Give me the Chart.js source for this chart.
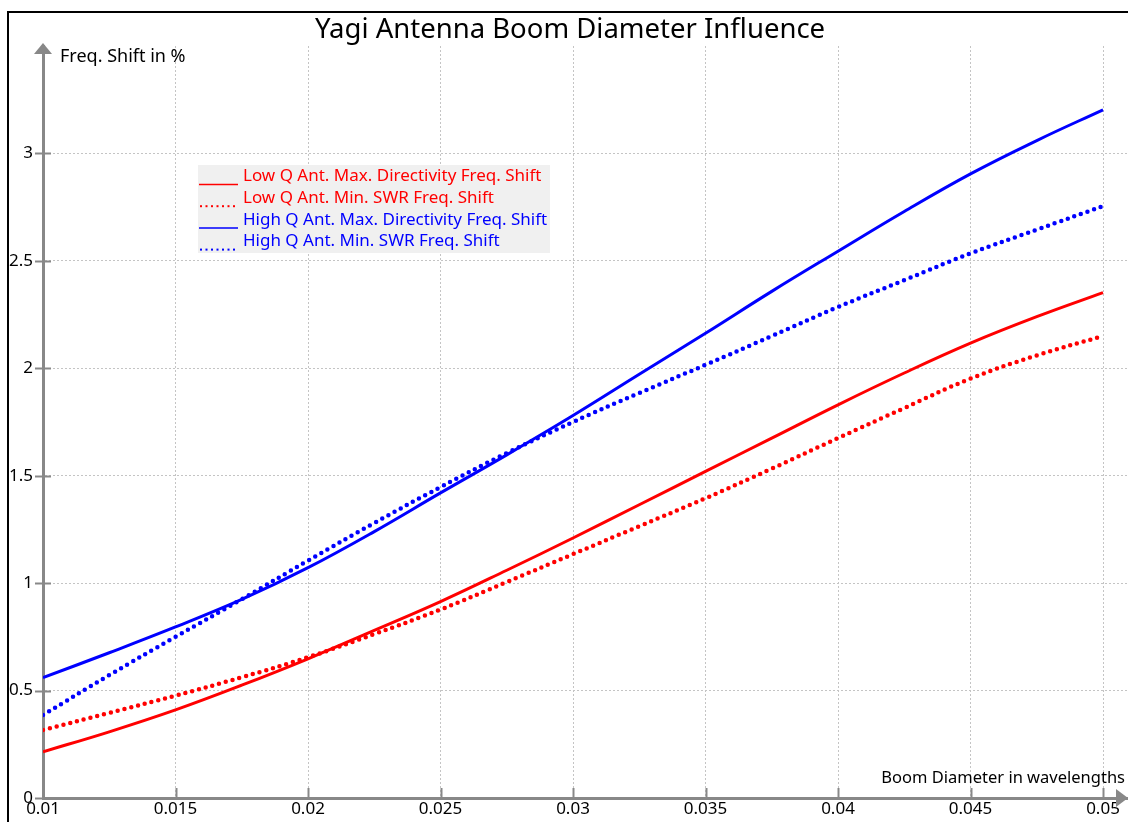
<!DOCTYPE html>
<html>
<head>
<meta charset="utf-8">
<script src="https://cdn.jsdelivr.net/npm/chart.js@4.4.0/dist/chart.umd.min.js"></script>
<style>
    html, body { margin: 0; padding: 0; background: #fff; }
</style>
</head>
<body>
<canvas id="chart" width="1128" height="822"></canvas>
<script>
// boom diameter in wavelengths
const boomDiameter = [0.01, 0.0125, 0.015, 0.0175, 0.02, 0.0225, 0.025, 0.0275, 0.03,
    0.0325, 0.035, 0.0375, 0.04, 0.0425, 0.045, 0.0475, 0.05];

// frequency shift in %
const lowQMaxDir  = [0.215, 0.308, 0.41, 0.525, 0.648, 0.78, 0.914, 1.06, 1.21,
    1.365, 1.52, 1.675, 1.83, 1.978, 2.117, 2.24, 2.352];
const lowQMinSwr  = [0.317, 0.396, 0.476, 0.562, 0.655, 0.763, 0.877, 1.005, 1.135,
    1.265, 1.395, 1.533, 1.675, 1.815, 1.952, 2.06, 2.15];
const highQMaxDir = [0.56, 0.676, 0.796, 0.924, 1.072, 1.24, 1.42, 1.597, 1.78,
    1.972, 2.163, 2.358, 2.545, 2.73, 2.905, 3.06, 3.203];
const highQMinSwr = [0.386, 0.572, 0.75, 0.925, 1.105, 1.28, 1.447, 1.605, 1.75,
    1.885, 2.016, 2.15, 2.285, 2.41, 2.535, 2.645, 2.755];

const seriesNames = [
    "Low Q Ant. Max. Directivity Freq. Shift",
    "Low Q Ant. Min. SWR Freq. Shift",
    "High Q Ant. Max. Directivity Freq. Shift",
    "High Q Ant. Min. SWR Freq. Shift"
];

const xTicks = [0.01, 0.015, 0.02, 0.025, 0.03, 0.035, 0.04, 0.045, 0.05];
const yTicks = [0, 0.5, 1, 1.5, 2, 2.5, 3];

const chartTitle = "Yagi Antenna Boom Diameter Influence";
const xTitle = "Boom Diameter in wavelengths";
const yTitle = "Freq. Shift in %";

const RED = "#ff0000";
const BLUE = "#0000ff";
const AXIS = "#888888";
const FONT = "'Noto Sans', 'DejaVu Sans', sans-serif";

const points = (ys) => boomDiameter.map((x, i) => ({x: x, y: ys[i]}));

function series(label, ys, color, dotted) {
    return {
        label: label,
        data: points(ys),
        borderColor: color,
        backgroundColor: color,
        borderWidth: dotted ? 4.5 : 3,
        borderDash: dotted ? [0, 7] : [],
        borderCapStyle: dotted ? "round" : "butt",
        pointRadius: 0,
        tension: 0.4,
        fill: false,
        dotted: dotted
    };
}

const decorations = {
    id: "decorations",
    beforeDraw(chart) {
        const ctx = chart.ctx;
        ctx.save();
        ctx.fillStyle = "#fff";
        ctx.fillRect(0, 0, chart.width, chart.height);
        // frame
        ctx.strokeStyle = "#000";
        ctx.lineWidth = 2;
        ctx.beginPath();
        ctx.moveTo(8, chart.height + 5);
        ctx.lineTo(8, 12);
        ctx.lineTo(chart.width + 5, 12);
        ctx.stroke();
        ctx.restore();
    },
    afterDraw(chart) {
        const ctx = chart.ctx;
        const area = chart.chartArea;
        const x = chart.scales.x;
        const y = chart.scales.y;
        ctx.save();

        // tick marks
        ctx.strokeStyle = AXIS;
        ctx.lineWidth = 2;
        yTicks.forEach(v => {
            const py = Math.round(y.getPixelForValue(v)) + 0.5;
            ctx.beginPath();
            ctx.moveTo(area.left - 8, py);
            ctx.lineTo(area.left + 8, py);
            ctx.stroke();
        });
        xTicks.forEach(v => {
            const px = Math.round(x.getPixelForValue(v)) + 0.5;
            ctx.beginPath();
            ctx.moveTo(px, area.bottom - 10);
            ctx.lineTo(px, area.bottom);
            ctx.stroke();
        });

        // arrow heads
        ctx.fillStyle = AXIS;
        ctx.beginPath();
        ctx.moveTo(area.left, area.top - 3);
        ctx.lineTo(area.left - 9, area.top + 8);
        ctx.lineTo(area.left + 9, area.top + 8);
        ctx.closePath();
        ctx.fill();
        ctx.beginPath();
        ctx.moveTo(area.right, area.bottom);
        ctx.lineTo(area.right - 12, area.bottom - 9);
        ctx.lineTo(area.right - 12, area.bottom + 9);
        ctx.closePath();
        ctx.fill();

        // axis titles
        ctx.fillStyle = "#000";
        ctx.textBaseline = "middle";
        ctx.textAlign = "left";
        ctx.font = "18px " + FONT;
        ctx.fillText(yTitle, 60, 57);
        ctx.textAlign = "right";
        ctx.font = "16.5px " + FONT;
        ctx.fillText(xTitle, 1125, 778);

        // chart title
        ctx.font = "27.5px " + FONT;
        ctx.textAlign = "center";
        ctx.fillText(chartTitle, 570, 30);

        // legend
        ctx.fillStyle = "#f0f0f0";
        ctx.fillRect(198, 165, 352, 88);
        ctx.font = "17px " + FONT;
        ctx.textAlign = "left";
        chart.data.datasets.forEach((ds, i) => {
            const cy = 176.5 + i * 21.7;
            ctx.fillStyle = ds.borderColor;
            ctx.strokeStyle = ds.borderColor;
            if (ds.dotted) {
                for (let k = 0; k < 7; k++) {
                    ctx.fillRect(200 + k * 5.5, cy + 7, 2, 2);
                }
            } else {
                ctx.lineWidth = 1.5;
                ctx.beginPath();
                ctx.moveTo(199, cy + 8);
                ctx.lineTo(238, cy + 8);
                ctx.stroke();
            }
            ctx.fillText(ds.label, 243, cy);
        });

        ctx.restore();
    }
};

new Chart(document.getElementById("chart"), {
    type: "line",
    data: {
        datasets: [
            series(seriesNames[0], lowQMaxDir, RED, false),
            series(seriesNames[1], lowQMinSwr, RED, true),
            series(seriesNames[2], highQMaxDir, BLUE, false),
            series(seriesNames[3], highQMinSwr, BLUE, true)
        ]
    },
    options: {
        responsive: false,
        animation: false,
        devicePixelRatio: 1,
        layout: {padding: {top: 46, right: 0, left: 0, bottom: 0}},
        plugins: {
            legend: {display: false},
            title: {display: false},
            tooltip: {enabled: false}
        },
        scales: {
            x: {
                type: "linear",
                min: 0.01,
                max: 0.050943,
                afterBuildTicks: (scale) => {
                    scale.ticks = xTicks.map(v => ({value: v}));
                },
                afterFit: (scale) => {
                    scale.height = 24;
                },
                ticks: {
                    color: "#000",
                    font: {family: FONT, size: 17},
                    padding: 1,
                    maxRotation: 0,
                    autoSkip: false,
                    callback: (v) => String(v)
                },
                grid: {color: "#c4c4c4", lineWidth: 1, drawTicks: false},
                border: {color: AXIS, width: 3, dash: [2, 2]}
            },
            y: {
                type: "linear",
                min: 0,
                max: 3.5,
                afterBuildTicks: (scale) => {
                    scale.ticks = yTicks.map(v => ({value: v}));
                },
                afterFit: (scale) => {
                    scale.width = 43;
                },
                ticks: {
                    color: "#000",
                    font: {family: FONT, size: 17},
                    padding: 10,
                    autoSkip: false,
                    callback: (v) => String(v)
                },
                grid: {color: "#c4c4c4", lineWidth: 1, drawTicks: false},
                border: {color: AXIS, width: 3, dash: [2, 2]}
            }
        }
    },
    plugins: [decorations]
});
</script>
</body>
</html>
